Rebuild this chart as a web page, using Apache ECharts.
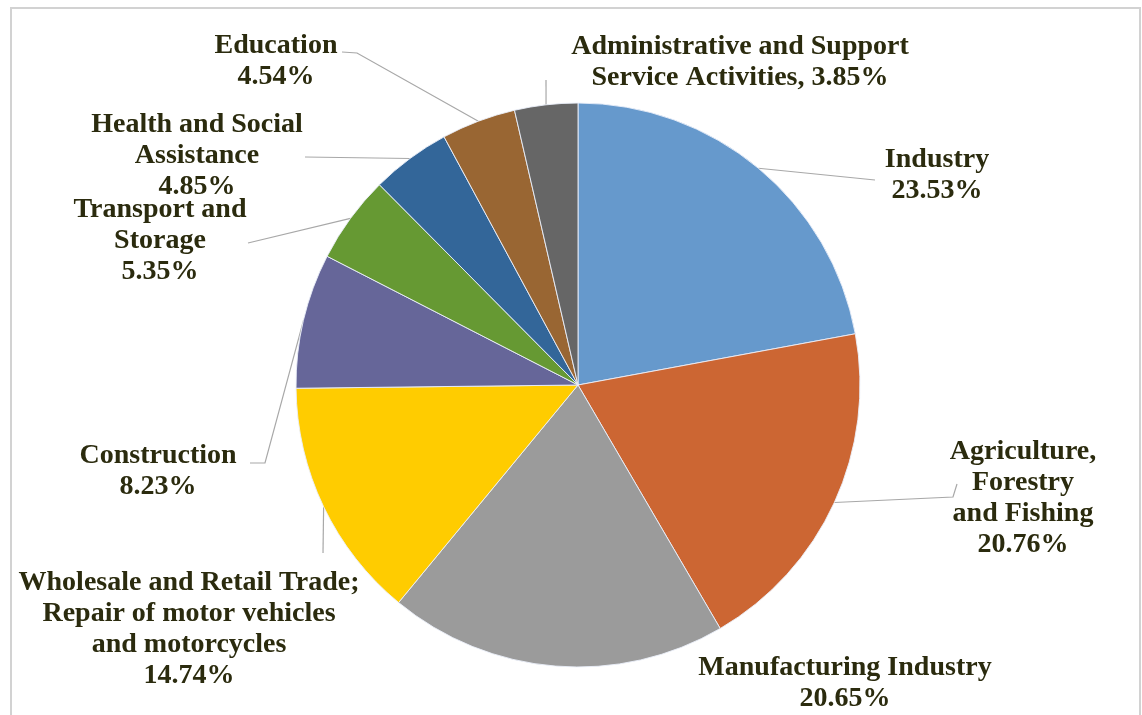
<!DOCTYPE html>
<html>
<head>
<meta charset="utf-8">
<script src="https://cdn.jsdelivr.net/npm/echarts@6/dist/echarts.min.js"></script>
<style>
  html, body { margin: 0; padding: 0; background: #ffffff; }
  #chart { width: 1142px; height: 715px; }
</style>
</head>
<body>
<div id="chart"></div>
<script>
// Employed population by sector of activity (%), clockwise from 12 o'clock
const categories = [
  'Industry',
  'Agriculture,\nForestry\nand Fishing',
  'Manufacturing Industry',
  'Wholesale and Retail Trade;\nRepair of motor vehicles\nand motorcycles',
  'Construction',
  'Transport and\nStorage',
  'Health and Social\nAssistance',
  'Education',
  'Administrative and Support\nService Activities'
];
const shares = [23.53, 20.76, 20.65, 14.74, 8.23, 5.35, 4.85, 4.54, 3.85];
const sliceColors = ['#6699cc', '#cc6633', '#9b9b9b', '#ffcc00', '#666699', '#669933', '#336699', '#996633', '#666666'];

// label centres and leader-line bends (pixels), one entry per slice
const labelAnchors = [
  { x: 937, y: 175, line: [[875, 180]] },
  { x: 1023, y: 498, line: [[953, 497], [957, 484]] },
  { x: 845, y: 683, line: null },
  { x: 189, y: 629, line: [[323, 553]] },
  { x: 158, y: 471, line: [[265, 463], [250, 463]] },
  { x: 160, y: 241, line: [[248, 243]] },
  { x: 197, y: 156, line: [[305, 157]] },
  { x: 276, y: 61, line: [[357, 53], [342, 52]] },
  { x: 740, y: 62, line: [[546, 80]] }
];
// value follows the name on the same line for these labels
const inlineValue = { 8: true };

const CX = 578, CY = 385, R = 282;
const total = shares.reduce((a, b) => a + b, 0);

function sliceEdgePoint(i) {
  let before = 0;
  for (let k = 0; k < i; k++) before += shares[k];
  const mid = (before + shares[i] / 2) / total * Math.PI * 2;
  return [CX + R * Math.sin(mid), CY - R * Math.cos(mid)];
}

const chart = echarts.init(document.getElementById('chart'), null, { renderer: 'canvas' });

chart.setOption({
  backgroundColor: '#ffffff',
  animation: false,
  graphic: [{
    type: 'rect',
    shape: { x: 11, y: 8, width: 1129, height: 720 },
    style: { fill: 'none', stroke: '#d2d2d2', lineWidth: 2 },
    silent: true
  }],
  series: [{
    type: 'pie',
    center: [CX, CY],
    radius: R,
    startAngle: 90,
    clockwise: true,
    avoidLabelOverlap: false,
    itemStyle: { borderColor: 'rgba(235,240,250,0.9)', borderWidth: 1 },
    label: {
      show: true,
      position: 'outside',
      fontFamily: 'Liberation Serif',
      fontWeight: 'bold',
      fontSize: 28,
      lineHeight: 31,
      color: '#2b2b0e',
      align: 'center',
      formatter: p => p.name + (inlineValue[p.dataIndex] ? ', ' : '\n') + p.value.toFixed(2) + '%'
    },
    labelLine: { show: true, length: 10, length2: 10, lineStyle: { color: '#a8a8a8', width: 1.2 } },
    labelLayout: params => {
      const a = labelAnchors[params.dataIndex];
      const start = (params.labelLinePoints && params.labelLinePoints[0]) || sliceEdgePoint(params.dataIndex);
      const out = { x: a.x, y: a.y, align: 'center', verticalAlign: 'middle' };
      if (a.line) {
        const pts = [start].concat(a.line);
        while (pts.length < 3) pts.push(pts[pts.length - 1]);
        out.labelLinePoints = pts;
      } else {
        out.labelLinePoints = [start, start, start];
      }
      return out;
    },
    data: categories.map((name, i) => ({
      name: name,
      value: shares[i],
      itemStyle: { color: sliceColors[i] }
    }))
  }]
});
</script>
</body>
</html>
